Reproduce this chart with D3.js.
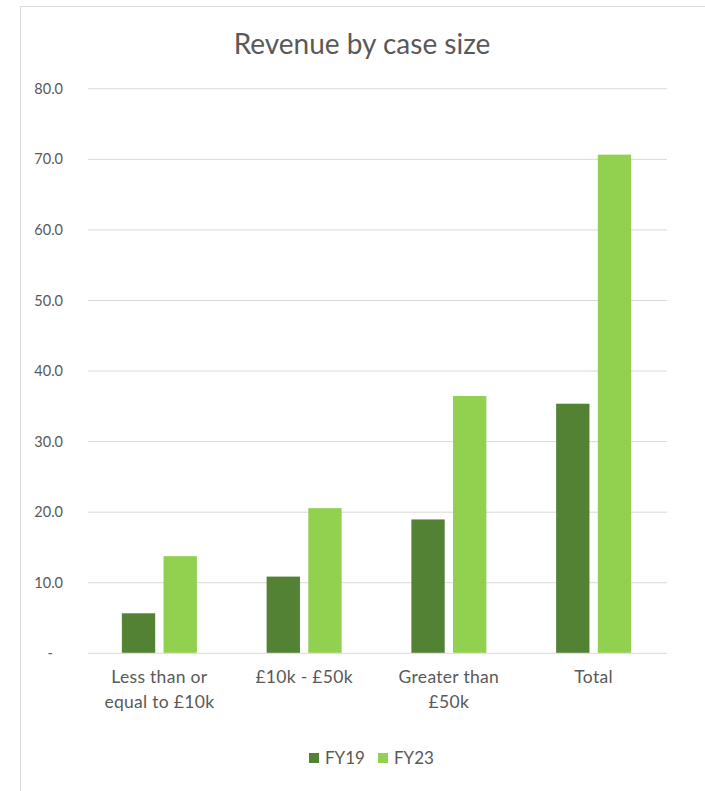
<!DOCTYPE html>
<html><head><meta charset="utf-8">
<script src="https://cdn.jsdelivr.net/npm/d3@7"></script>
<style>
html,body{margin:0;padding:0;background:#fff;}
text{font-family:Lato,"Open Sans",sans-serif;fill:#595959;}
</style></head>
<body><svg id="c" width="705" height="791"></svg>
<script>
const categories = [["Less than or","equal to £10k"],["£10k - £50k"],["Greater than","£50k"],["Total"]];
const categoryKeys = ["le10k","10to50k","gt50k","total"];
const seriesNames = ["FY19","FY23"];
const fy19 = [5.6, 10.8, 18.9, 35.3];
const fy23 = [13.7, 20.5, 36.4, 70.6];
const yTicks = [0,10,20,30,40,50,60,70,80];
const colors = ["#548235","#92d050"];

const svg = d3.select("#c");
// outer border
svg.append("line").attr("x1",20.5).attr("x2",20.5).attr("y1",6).attr("y2",791).attr("stroke","#d9d9d9");
svg.append("line").attr("x1",20).attr("x2",705).attr("y1",6.5).attr("y2",6.5).attr("stroke","#d9d9d9");

const pLeft=88,pRight=667,pTop=88.3,pBottom=652.8;
const y = d3.scaleLinear().domain([0,80]).range([pBottom,pTop]);
const x0 = d3.scaleBand().domain(categoryKeys).range([pLeft-1,pRight-1]).padding(0);
const x1 = d3.scaleBand().domain(seriesNames).range([x0.bandwidth()/2-37.5, x0.bandwidth()/2+37.5]).paddingInner(0.2).paddingOuter(0);

// title
svg.append("text").attr("x",362).attr("y",54).attr("text-anchor","middle")
  .style("font-size","28px").text("Revenue by case size");

// gridlines
const yAxis = d3.axisLeft(y).tickValues(yTicks).tickSize(-(pRight-pLeft))
  .tickFormat(d => d===0 ? "-" : d3.format(".1f")(d));
const g = svg.append("g").attr("transform",`translate(${pLeft},0)`).call(yAxis);
g.select(".domain").remove();
g.selectAll(".tick line").attr("stroke","#d9d9d9");
g.selectAll(".tick text").attr("x",-25).attr("dy","0.35em").style("font-size","14.5px").style("fill","#595959")
  .filter(d=>d===0).attr("x",-35);

// bars
const data = categoryKeys.map((k,i)=>({k, vals:[fy19[i],fy23[i]]}));
const grp = svg.selectAll("g.grp").data(data).join("g").attr("class","grp")
  .attr("transform",d=>`translate(${x0(d.k)},0)`);
grp.selectAll("rect").data(d=>d.vals.map((v,j)=>({s:seriesNames[j],v,j}))).join("rect")
  .attr("x",d=>x1(d.s)).attr("width",x1.bandwidth())
  .attr("y",d=>y(d.v)).attr("height",d=>y(0)-y(d.v))
  .attr("fill",d=>colors[d.j]);

// x labels
categoryKeys.forEach((k,i)=>{
  const t = svg.append("text").attr("text-anchor","middle").style("font-size","17.5px")
    .style("letter-spacing","0.3px")
    .attr("x",x0(k)+x0.bandwidth()/2).attr("y",683);
  categories[i].forEach((line,li)=>{
    t.append("tspan").attr("x",x0(k)+x0.bandwidth()/2).attr("dy",li===0?0:25).text(line);
  });
});

// legend
const legX=[309,378];
seriesNames.forEach((s,i)=>{
  svg.append("rect").attr("x",legX[i]).attr("y",753).attr("width",10).attr("height",10).attr("fill",colors[i]);
  svg.append("text").attr("x",legX[i]+16).attr("y",764).style("font-size","17px").text(s);
});
</script></body></html>
